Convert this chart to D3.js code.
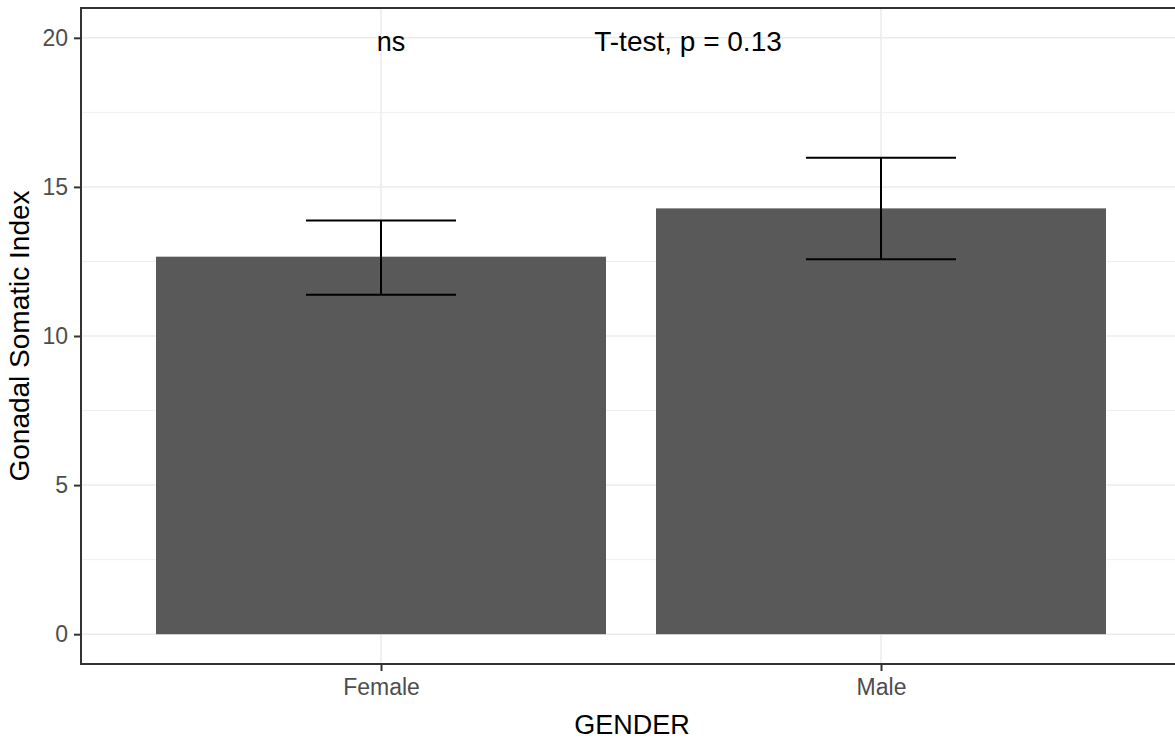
<!DOCTYPE html>
<html>
<head>
<meta charset="utf-8">
<script src="https://cdn.jsdelivr.net/npm/d3@7"></script>
<style>
  body { margin: 0; background: #fff; }
  svg { font-family: 'Liberation Sans', Arial, sans-serif; }
</style>
</head>
<body>
<div id="chart"></div>
<script>
// values
let genders = ['Female', 'Male'];
let means = [12.66, 14.28];
let lower = [11.38, 12.57];
let upper = [13.87, 15.98];
let yTicks = [0, 5, 10, 15, 20];
let yMinor = [2.5, 7.5, 12.5, 17.5];

let width = 1175;
let height = 740;
let margin = ({ top: 8, right: -6, bottom: 76, left: 81 });

let svg = d3.select('#chart')
    .append('svg')
    .attr('width', width)
    .attr('height', height);

let x = d3.scalePoint()
    .domain(genders)
    .range([margin.left, width - margin.right])
    .padding(0.6);

let step = x.step();

let y = d3.scaleLinear()
    .domain([-1, 21])
    .range([height - margin.bottom, margin.top]);

let rows = genders.map((g, i) => ({ g: g, m: means[i], lo: lower[i], hi: upper[i] }));

// grid lines
svg.append('g')
    .selectAll('line')
    .data(yMinor)
    .enter()
    .append('line')
    .attr('x1', margin.left)
    .attr('x2', width)
    .attr('y1', d => y(d))
    .attr('y2', d => y(d))
    .attr('stroke', '#ebebeb')
    .attr('stroke-width', 0.8);

svg.append('g')
    .selectAll('line')
    .data(yTicks)
    .enter()
    .append('line')
    .attr('x1', margin.left)
    .attr('x2', width)
    .attr('y1', d => y(d))
    .attr('y2', d => y(d))
    .attr('stroke', '#ebebeb')
    .attr('stroke-width', 1.5);

svg.append('g')
    .selectAll('line')
    .data(genders)
    .enter()
    .append('line')
    .attr('x1', d => x(d))
    .attr('x2', d => x(d))
    .attr('y1', margin.top)
    .attr('y2', height - margin.bottom)
    .attr('stroke', '#ebebeb')
    .attr('stroke-width', 1.5);

// bars
svg.append('g')
    .selectAll('rect')
    .data(rows)
    .enter()
    .append('rect')
    .attr('x', d => x(d.g) - step * 0.45)
    .attr('width', step * 0.9)
    .attr('y', d => y(d.m))
    .attr('height', d => y(0) - y(d.m))
    .attr('fill', '#595959');

// error bars
let eb = svg.append('g')
    .selectAll('g')
    .data(rows)
    .enter()
    .append('g')
    .attr('stroke', 'black')
    .attr('stroke-width', 2);

eb.append('line')
    .attr('x1', d => x(d.g)).attr('x2', d => x(d.g))
    .attr('y1', d => y(d.lo)).attr('y2', d => y(d.hi));
eb.append('line')
    .attr('x1', d => x(d.g) - step * 0.15).attr('x2', d => x(d.g) + step * 0.15)
    .attr('y1', d => y(d.hi)).attr('y2', d => y(d.hi));
eb.append('line')
    .attr('x1', d => x(d.g) - step * 0.15).attr('x2', d => x(d.g) + step * 0.15)
    .attr('y1', d => y(d.lo)).attr('y2', d => y(d.lo));

// panel border
svg.append('rect')
    .attr('x', margin.left)
    .attr('y', margin.top)
    .attr('width', width - margin.right - margin.left)
    .attr('height', height - margin.bottom - margin.top)
    .attr('fill', 'none')
    .attr('stroke', '#333333')
    .attr('stroke-width', 2);

// axes
let yAxis = g => g
    .attr('transform', `translate(${margin.left},0)`)
    .call(d3.axisLeft(y).tickValues(yTicks).tickSize(7).tickPadding(6))
    .call(g => g.select('.domain').remove());

let xAxis = g => g
    .attr('transform', `translate(0,${height - margin.bottom})`)
    .call(d3.axisBottom(x).tickSize(7).tickPadding(8))
    .call(g => g.select('.domain').remove());

svg.append('g').call(yAxis);
svg.append('g').call(xAxis);

svg.selectAll('.tick line')
    .attr('stroke', '#333333')
    .attr('stroke-width', 2);

svg.selectAll('.tick text')
    .attr('fill', '#4d4d4d')
    .style('font-size', '23px')
    .style('font-family', "'Liberation Sans', Arial, sans-serif");

// labels
svg.append('text')
    .attr('x', (margin.left + width - margin.right) / 2 + 1)
    .attr('y', 734)
    .attr('text-anchor', 'middle')
    .style('font-size', '27px')
    .text('GENDER');

svg.append('text')
    .attr('transform', `translate(29, ${(margin.top + height - margin.bottom) / 2}) rotate(-90)`)
    .attr('text-anchor', 'middle')
    .style('font-size', '28px')
    .text('Gonadal Somatic Index');

svg.append('text')
    .attr('x', 391)
    .attr('y', 51)
    .attr('text-anchor', 'middle')
    .style('font-size', '27px')
    .text('ns');

svg.append('text')
    .attr('x', 688)
    .attr('y', 51)
    .attr('text-anchor', 'middle')
    .style('font-size', '28px')
    .text('T-test, p = 0.13');
</script>
</body>
</html>
